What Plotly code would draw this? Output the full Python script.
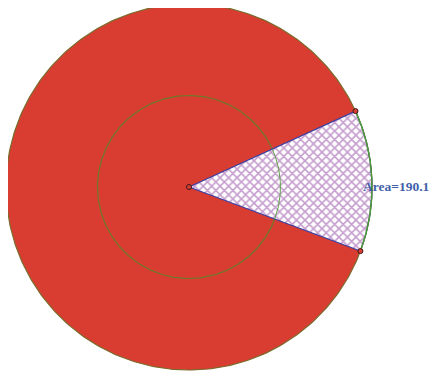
import numpy as np
import plotly.graph_objects as go

# values
outer_radius = 22.0
inner_radius = 11.0
sector_start_deg = -20.5
sector_end_deg = 24.5
area_label = "Area=%.1f" % (np.pi * outer_radius ** 2 * (sector_end_deg - sector_start_deg) / 360)

t = np.linspace(0, 2 * np.pi, 361)
s = np.radians(np.linspace(sector_start_deg, sector_end_deg, 91))

fig = go.Figure()
# big red disc
fig.add_trace(go.Scatter(x=outer_radius * np.cos(t), y=outer_radius * np.sin(t), mode='lines',
                         fill='toself', fillcolor='#D93D32', line=dict(color='#7A6A2A', width=1.2),
                         hoverinfo='skip'))
# inner circle
fig.add_trace(go.Scatter(x=inner_radius * np.cos(t), y=inner_radius * np.sin(t), mode='lines',
                         line=dict(color='#6E7A2A', width=1.2), hoverinfo='skip'))
# hatched sector
sx = np.concatenate([[0], outer_radius * np.cos(s), [0]])
sy = np.concatenate([[0], outer_radius * np.sin(s), [0]])
fig.add_trace(go.Scatter(x=sx, y=sy, mode='lines', fill='toself', fillcolor='white',
                         fillpattern=dict(shape='x', fgcolor='#8A3A9C', bgcolor='white', size=6, solidity=0.45),
                         line=dict(color='#3B3FA0', width=1.2), hoverinfo='skip'))
# inner circle arc inside the sector (green)
fig.add_trace(go.Scatter(x=inner_radius * np.cos(s), y=inner_radius * np.sin(s), mode='lines',
                         line=dict(color='#5FA34A', width=1), hoverinfo='skip'))
# green arc of sector
fig.add_trace(go.Scatter(x=outer_radius * np.cos(s), y=outer_radius * np.sin(s), mode='lines',
                         line=dict(color='#4E9A3A', width=1.5), hoverinfo='skip'))
# points
px = [0, outer_radius * np.cos(s[0]), outer_radius * np.cos(s[-1])]
py = [0, outer_radius * np.sin(s[0]), outer_radius * np.sin(s[-1])]
fig.add_trace(go.Scatter(x=px, y=py, mode='markers',
                         marker=dict(size=5, color='#D93D32', line=dict(color='#3A1A1A', width=1)),
                         hoverinfo='skip'))

fig.add_annotation(x=outer_radius * 0.965, y=0.1, text="<b>%s</b>" % area_label, showarrow=False,
                   xanchor='left', yanchor='middle', xshift=-5,
                   font=dict(family='Liberation Serif', size=13.5, color='#3F5FAA'))

scale = 183 / outer_radius
fig.update_layout(width=429, height=364, margin=dict(l=0, r=0, t=0, b=0),
                  paper_bgcolor='white', plot_bgcolor='white', showlegend=False)
fig.update_xaxes(range=[-181 / scale, (429 - 181) / scale], visible=False)
fig.update_yaxes(range=[-(364 - 179) / scale, 179 / scale], visible=False)
fig.write_html("out.html")
